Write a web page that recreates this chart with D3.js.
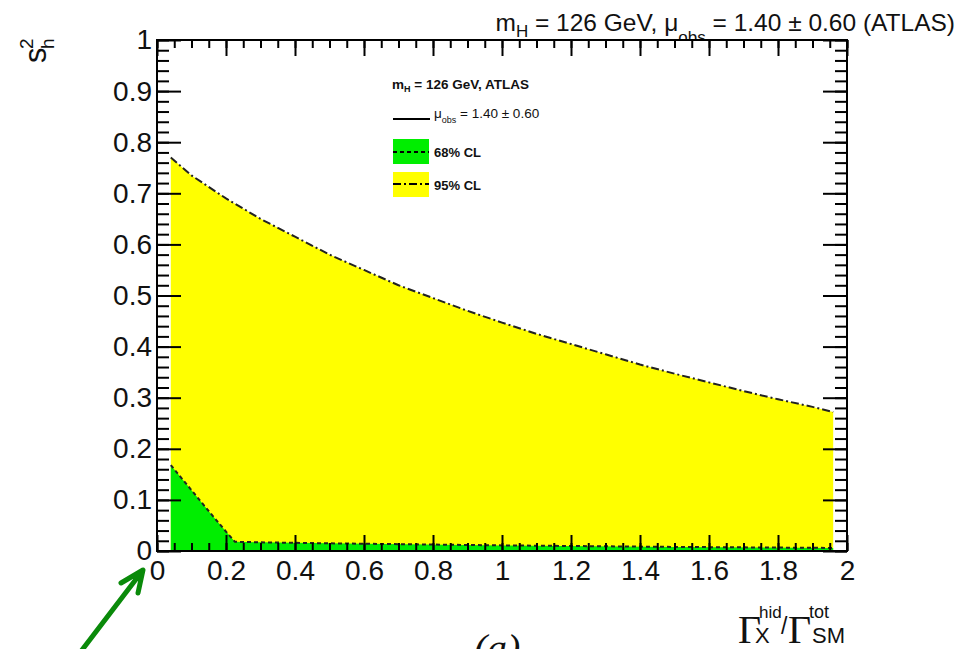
<!DOCTYPE html>
<html>
<head>
<meta charset="utf-8">
<script src="https://cdn.jsdelivr.net/npm/d3@7"></script>
<style>
  body { margin: 0; background: #fff; }
  svg text { font-family: "Liberation Sans", Arial, sans-serif; fill: #111; }
</style>
</head>
<body>
<div class="chart"></div>
<script>
// 95% CL upper edge (lower edge is 0)
var cl95X = [0.04, 0.1, 0.2, 0.3, 0.4, 0.5, 0.6, 0.7, 0.8, 0.9, 1.0, 1.1, 1.2, 1.3, 1.4, 1.5, 1.6, 1.7, 1.8, 1.9, 1.96];
var cl95Y = [0.77, 0.735, 0.69, 0.65, 0.615, 0.58, 0.55, 0.52, 0.495, 0.47, 0.447, 0.425, 0.405, 0.385, 0.365, 0.347, 0.33, 0.313, 0.297, 0.282, 0.272];
// 68% CL upper edge
var cl68X = [0.04, 0.1, 0.15, 0.2, 0.226, 0.3, 0.5, 1.0, 1.5, 1.96];
var cl68Y = [0.168, 0.119, 0.078, 0.038, 0.018, 0.017, 0.015, 0.011, 0.008, 0.006];

var xMajor = [0, 0.2, 0.4, 0.6, 0.8, 1, 1.2, 1.4, 1.6, 1.8, 2];
var yMajor = [0, 0.1, 0.2, 0.3, 0.4, 0.5, 0.6, 0.7, 0.8, 0.9, 1];
var xMinor = d3.range(0, 2.001, 0.05);
var yMinor = d3.range(0, 1.001, 0.02);

var W = 957, H = 649;
var frame = { left: 157, right: 847, top: 40, bottom: 551 };

var svg = d3.select('.chart').append('svg')
    .attr('width', W)
    .attr('height', H);

var x = d3.scaleLinear().domain([0, 2]).range([frame.left, frame.right]);
var y = d3.scaleLinear().domain([0, 1]).range([frame.bottom, frame.top]);

// title (drawn first so the frame covers the subscript)
var title = svg.append('text')
    .attr('x', 955).attr('y', 31)
    .attr('text-anchor', 'end')
    .style('font-size', '24.5px');
title.append('tspan').text('m');
title.append('tspan').attr('dy', 6).style('font-size', '17px').text('H');
title.append('tspan').attr('dy', -6).text(' = 126 GeV, μ');
title.append('tspan').attr('dy', 12).style('font-size', '17px').text('obs');
title.append('tspan').attr('dy', -12).text(' = 1.40 ± 0.60 (ATLAS)');

// plot area
svg.append('rect')
    .attr('x', frame.left).attr('y', frame.top)
    .attr('width', frame.right - frame.left)
    .attr('height', frame.bottom - frame.top)
    .attr('fill', '#fff');

var pts95 = cl95X.map((d, i) => [d, cl95Y[i]]);
var pts68 = cl68X.map((d, i) => [d, cl68Y[i]]);

var area = d3.area()
    .x((d) => x(d[0]))
    .y0(y(0))
    .y1((d) => y(d[1]));
var line = d3.line()
    .x((d) => x(d[0]))
    .y((d) => y(d[1]));

svg.append('path').attr('d', area(pts95)).attr('fill', '#ffff00');
svg.append('path').attr('d', area(pts68)).attr('fill', '#00ee00');

svg.append('path').attr('d', line(pts95))
    .attr('fill', 'none').attr('stroke', '#222').attr('stroke-width', 2)
    .attr('stroke-dasharray', '8,3,2,3');
svg.append('path').attr('d', line(pts68))
    .attr('fill', 'none').attr('stroke', '#222').attr('stroke-width', 2)
    .attr('stroke-dasharray', '4,3');

// axes, ticks pointing inward on all sides
function styleAxis(g) {
    g.select('.domain').remove();
    g.selectAll('line').attr('stroke', '#000').attr('stroke-width', 2);
    g.selectAll('text').style('font-size', '28px').attr('fill', '#111')
        .style('font-family', '"Liberation Sans", Arial, sans-serif');
}

svg.append('g').attr('transform', `translate(0,${frame.bottom})`)
    .call(d3.axisBottom(x).tickValues(xMinor).tickSize(-8).tickFormat(''))
    .call(styleAxis);
svg.append('g').attr('transform', `translate(0,${frame.bottom})`)
    .call(d3.axisBottom(x).tickValues(xMajor).tickSize(-16).tickPadding(9).tickFormat(d3.format('~g')))
    .call(styleAxis);
svg.append('g').attr('transform', `translate(0,${frame.top})`)
    .call(d3.axisTop(x).tickValues(xMinor).tickSize(-8).tickFormat(''))
    .call(styleAxis);
svg.append('g').attr('transform', `translate(0,${frame.top})`)
    .call(d3.axisTop(x).tickValues(xMajor).tickSize(-16).tickFormat(''))
    .call(styleAxis);

svg.append('g').attr('transform', `translate(${frame.left},0)`)
    .call(d3.axisLeft(y).tickValues(yMinor).tickSize(-12).tickFormat(''))
    .call(styleAxis);
svg.append('g').attr('transform', `translate(${frame.left},0)`)
    .call(d3.axisLeft(y).tickValues(yMajor).tickSize(-24).tickPadding(5).tickFormat(d3.format('~g')))
    .call(styleAxis);
svg.append('g').attr('transform', `translate(${frame.right},0)`)
    .call(d3.axisRight(y).tickValues(yMinor).tickSize(-12).tickFormat(''))
    .call(styleAxis);
svg.append('g').attr('transform', `translate(${frame.right},0)`)
    .call(d3.axisRight(y).tickValues(yMajor).tickSize(-24).tickFormat(''))
    .call(styleAxis);

// frame
svg.append('rect')
    .attr('x', frame.left).attr('y', frame.top)
    .attr('width', frame.right - frame.left)
    .attr('height', frame.bottom - frame.top)
    .attr('fill', 'none').attr('stroke', '#000').attr('stroke-width', 2);

// legend
var lg = svg.append('g');
var t0 = lg.append('text').attr('x', 392).attr('y', 89)
    .style('font-size', '13.5px').style('font-weight', 'bold');
t0.append('tspan').text('m');
t0.append('tspan').attr('dy', 3).style('font-size', '9px').text('H');
t0.append('tspan').attr('dy', -3).text(' = 126 GeV, ATLAS');

lg.append('line').attr('x1', 393).attr('x2', 430).attr('y1', 119).attr('y2', 119)
    .attr('stroke', '#000').attr('stroke-width', 2);
var t1 = lg.append('text').attr('x', 434).attr('y', 118)
    .style('font-size', '13.5px');
t1.append('tspan').text('μ');
t1.append('tspan').attr('dy', 5).style('font-size', '9px').text('obs');
t1.append('tspan').attr('dy', -5).text(' = 1.40 ± 0.60');

lg.append('rect').attr('x', 393).attr('y', 139).attr('width', 36).attr('height', 25)
    .attr('fill', '#00ee00');
lg.append('line').attr('x1', 393).attr('x2', 429).attr('y1', 152).attr('y2', 152)
    .attr('stroke', '#000').attr('stroke-width', 2).attr('stroke-dasharray', '4,3');
lg.append('text').attr('x', 434).attr('y', 157).style('font-size', '13px')
    .style('font-weight', 'bold').text('68% CL');

lg.append('rect').attr('x', 393).attr('y', 172).attr('width', 36).attr('height', 25)
    .attr('fill', '#ffff00');
lg.append('line').attr('x1', 393).attr('x2', 429).attr('y1', 184).attr('y2', 184)
    .attr('stroke', '#000').attr('stroke-width', 2).attr('stroke-dasharray', '8,3,2,3');
lg.append('text').attr('x', 434).attr('y', 190).style('font-size', '13px')
    .style('font-weight', 'bold').text('95% CL');

// y axis title: s_h^2 (rotated)
var yt = svg.append('text')
    .attr('transform', 'translate(46,63) rotate(-90)')
    .style('font-size', '31px');
yt.append('tspan').attr('x', 0).attr('y', 0).text('s');
yt.append('tspan').attr('x', 14).attr('y', -13).style('font-size', '19px').text('2');
yt.append('tspan').attr('x', 14).attr('y', 8).style('font-size', '19px').text('h');

// x axis title: Γ_X^hid / Γ_SM^tot
var serif = '"Liberation Serif", "Times New Roman", serif';
svg.append('text').attr('x', 738).attr('y', 643).style('font-size', '40px')
    .style('font-family', serif).text('Γ');
svg.append('text').attr('x', 759).attr('y', 618).style('font-size', '17px').text('hid');
svg.append('text').attr('x', 755).attr('y', 643).style('font-size', '22px').text('X');
svg.append('text').attr('x', 781).attr('y', 634).style('font-size', '23px').text('/');
svg.append('text').attr('x', 788).attr('y', 643).style('font-size', '40px')
    .style('font-family', serif).text('Γ');
svg.append('text').attr('x', 809).attr('y', 618).style('font-size', '18px').text('tot');
svg.append('text').attr('x', 812).attr('y', 643).style('font-size', '22px').text('SM');

// panel label, cut by the bottom edge
svg.append('text').attr('x', 497).attr('y', 662)
    .attr('text-anchor', 'middle')
    .style('font-size', '40px').style('font-style', 'italic')
    .style('font-family', serif).text('(a)');

// green arrow pointing at the origin
svg.append('path')
    .attr('d', 'M82,650 L140,574 M121,583 L143,570 L138,593')
    .attr('fill', 'none').attr('stroke', '#0a8a0a')
    .attr('stroke-width', 5).attr('stroke-linecap', 'round').attr('stroke-linejoin', 'round');
</script>
</body>
</html>
